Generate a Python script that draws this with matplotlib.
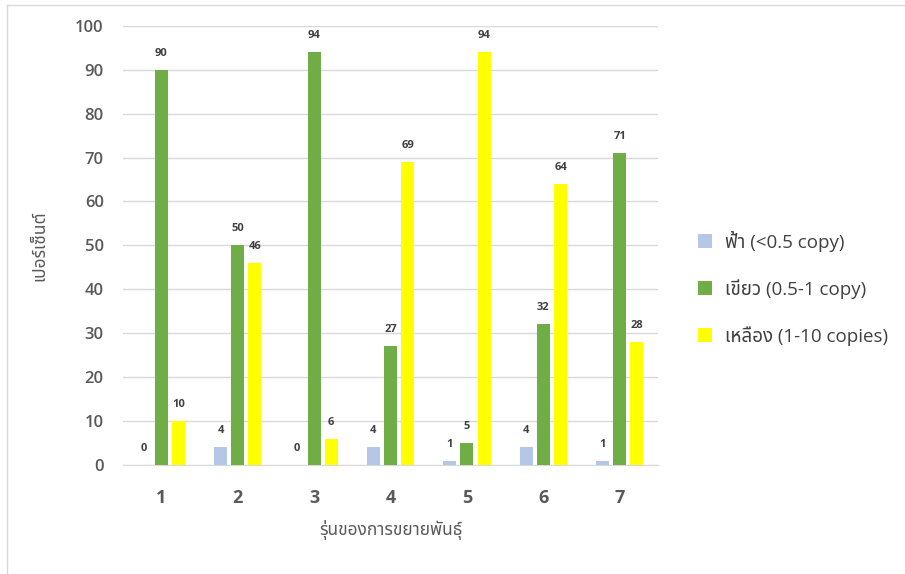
import matplotlib.pyplot as plt
import matplotlib.lines as mlines
import numpy as np

# Latin glyphs from Open Sans, Thai glyphs from Noto Sans Thai
plt.rcParams['font.family'] = ['Open Sans', 'Noto Sans Thai', 'Sarabun', 'DejaVu Sans']

generations = ['1', '2', '3', '4', '5', '6', '7']
blue_pct = [0, 4, 0, 4, 1, 4, 1]
green_pct = [90, 50, 94, 27, 5, 32, 71]
yellow_pct = [10, 46, 6, 69, 94, 64, 28]

series_names = ['ฟ้า (<0.5 copy)', 'เขียว (0.5-1 copy)', 'เหลือง (1-10 copies)']
series_colors = ['#B4C7E7', '#70AD47', '#FFFF00']

fig = plt.figure(figsize=(9.05, 5.74), dpi=100)
ax = fig.add_axes([0.136, 0.19, 0.591, 0.765])

x = np.arange(1, len(generations) + 1)
width = 0.17
step = 0.225
for i, (vals, name, col) in enumerate(zip([blue_pct, green_pct, yellow_pct], series_names, series_colors)):
    bars = ax.bar(x + (i - 1) * step, vals, width, color=col, label=name, zorder=3)
    for b, v in zip(bars, vals):
        ax.text(b.get_x() + b.get_width() / 2, v + 2.5, str(v), ha='center', va='bottom',
                fontsize=8, fontweight='bold', color='#404040')

ax.set_xlim(0.5, 7.5)
ax.set_ylim(0, 100)
ax.set_yticks(range(0, 101, 10))
ax.set_xticks(x)
ax.set_xticklabels(generations, fontsize=13, fontweight='bold', color='#595959')
for lbl in ax.get_yticklabels():
    lbl.set_fontweight('semibold')
ax.tick_params(axis='y', labelsize=12, labelcolor='#595959', length=0, pad=14)
ax.tick_params(axis='x', length=0, pad=17)
ax.yaxis.grid(True, color='#D9D9D9', linewidth=1)
ax.set_axisbelow(True)
for s in ['top', 'right', 'left']:
    ax.spines[s].set_visible(False)
ax.spines['bottom'].set_color('#D9D9D9')

ax.set_ylabel('เปอร์เซ็นต์', fontsize=12.5, color='#595959', labelpad=19)
ax.set_xlabel('รุ่นของการขยายพันธุ์', fontsize=12.5, color='#595959', labelpad=10)

fig.legend(loc='center left', bbox_to_anchor=(0.753, 0.498), frameon=False,
           fontsize=13.5, labelcolor='#404040', handlelength=0.75, handleheight=0.75,
           labelspacing=1.45, handletextpad=0.65)

# outer chart frame
fig.add_artist(mlines.Line2D([0.008, 0.008], [0.0, 0.991], color='#D9D9D9', lw=1))
fig.add_artist(mlines.Line2D([0.008, 1.0], [0.991, 0.991], color='#D9D9D9', lw=1))

fig.savefig('out.png', dpi=100)
